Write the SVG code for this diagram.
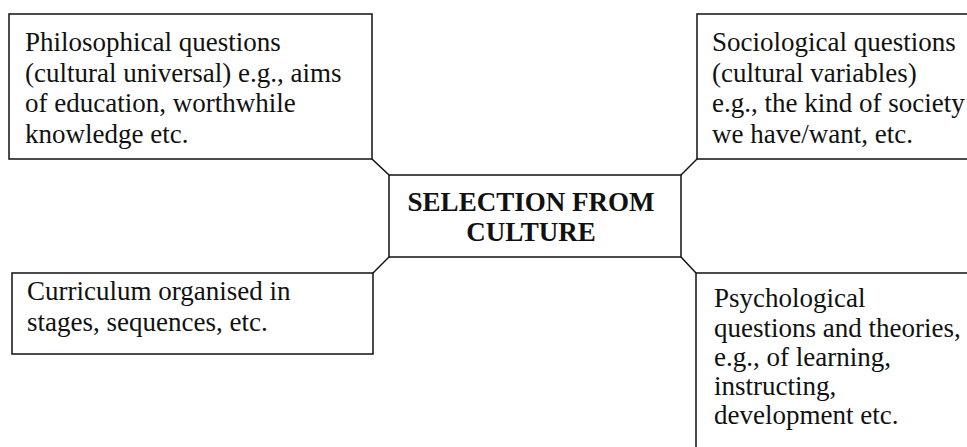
<svg xmlns="http://www.w3.org/2000/svg" width="967" height="447" viewBox="0 0 967 447">
<style>
.box{fill:#fff;stroke:#111;stroke-width:1.5}
.con{fill:none;stroke:#111;stroke-width:1.5}
.t{font-family:"Liberation Serif","Times New Roman",serif;font-size:27px;fill:#111}
.b{font-weight:bold;text-anchor:middle}
</style>
<rect width="967" height="447" fill="#fff"/>
<g id="connectors">
<line class="con" x1="372" y1="159" x2="389" y2="175"/>
<line class="con" x1="697" y1="159" x2="681" y2="175"/>
<line class="con" x1="373" y1="273" x2="389" y2="257"/>
<line class="con" x1="696" y1="273" x2="681" y2="257"/>
</g>
<g id="philosophical">
<rect class="box" x="9" y="14" width="363" height="145"/>
<text class="t" x="25" y="51">Philosophical questions</text>
<text class="t" x="25" y="81.5">(cultural universal) e.g., aims</text>
<text class="t" x="25" y="112">of education, worthwhile</text>
<text class="t" x="25" y="142.5">knowledge etc.</text>
</g>
<g id="sociological">
<rect class="box" x="697" y="14" width="280" height="145"/>
<text class="t" x="712" y="51">Sociological questions</text>
<text class="t" x="712" y="81.5">(cultural variables)</text>
<text class="t" x="712" y="112">e.g., the kind of society</text>
<text class="t" x="712" y="142.5">we have/want, etc.</text>
</g>
<g id="center">
<rect class="box" x="389" y="175" width="292" height="82"/>
<text class="t b" x="531" y="211">SELECTION FROM</text>
<text class="t b" x="531" y="241">CULTURE</text>
</g>
<g id="curriculum">
<rect class="box" x="12" y="273" width="361" height="81"/>
<text class="t" x="27" y="300">Curriculum organised in</text>
<text class="t" x="27" y="331">stages, sequences, etc.</text>
</g>
<g id="psychological">
<rect class="box" x="696" y="273" width="290" height="190"/>
<text class="t" x="714" y="307">Psychological</text>
<text class="t" x="714" y="336.5">questions and theories,</text>
<text class="t" x="714" y="366">e.g., of learning,</text>
<text class="t" x="714" y="395">instructing,</text>
<text class="t" x="714" y="424">development etc.</text>
</g>
</svg>
